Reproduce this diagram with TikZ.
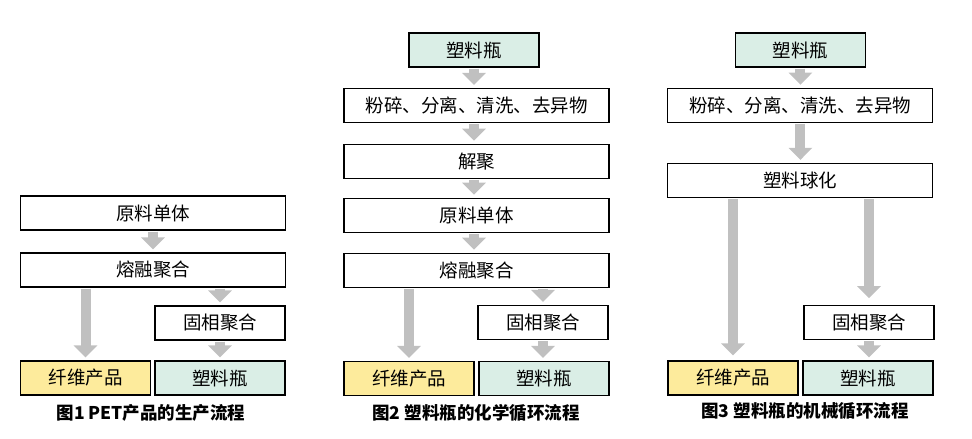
\documentclass[tikz,border=0pt]{standalone}
\usepackage{fontspec}
\setmainfont{Noto Sans CJK SC}
\usetikzlibrary{arrows.meta}

\definecolor{arrowgray}{HTML}{C0C0C0}
\definecolor{fiberyellow}{HTML}{FDEB9C}
\definecolor{bottleteal}{HTML}{DAEEE6}

\tikzset{
    box/.style={draw, line width=1.2pt, minimum height=34pt, inner sep=0pt,
                font=\fontsize{18.5}{18.5}\selectfont},
    widebox/.style={box, minimum width=265pt},
    smallbox/.style={box, minimum width=130pt},
    fiberbox/.style={smallbox, fill=fiberyellow},
    bottlebox/.style={smallbox, fill=bottleteal},
    flow/.style={draw=arrowgray, line width=10pt,
                 -{Triangle[width=23pt,length=12pt]}, shorten >=3pt, shorten <=1pt},
    caption/.style={font=\fontsize{17.5}{17.5}\selectfont\bfseries}
}

\begin{document}
\begin{tikzpicture}[x=1pt, y=-1pt]
                    \useasboundingbox (0,0) rectangle (972,439);

                    % 图1 PET产品的生产流程
                    \node[widebox] (mono1) at (153,213) {原料单体};
                    \node[widebox] (melt1) at (153,270) {熔融聚合};
                    \node[smallbox] (solid1) at (220,323) {固相聚合};
                    \node[fiberbox] (fiber1) at (85.5,378) {纤维产品};
                    \node[bottlebox] (bottle1) at (220,378) {塑料瓶};
                    \node[caption] (cap1) at (151,413) {图1 PET产品的生产流程};

                    \draw[flow] (mono1.south) -- (melt1.north);
                    \draw[flow] (melt1.south -| fiber1) -- (fiber1.north);
                    \draw[flow] (melt1.south -| solid1) -- (solid1.north);
                    \draw[flow] (solid1.south) -- (bottle1.north);

                    % 图2 塑料瓶的化学循环流程
                    \node[bottlebox] (top2) at (474,50) {塑料瓶};
                    \node[widebox] (crush2) at (476.5,105.5) {粉碎、分离、清洗、去异物};
                    \node[widebox] (depoly2) at (476.5,161.3) {解聚};
                    \node[widebox] (mono2) at (476.5,215.3) {原料单体};
                    \node[widebox] (melt2) at (476.5,270.3) {熔融聚合};
                    \node[smallbox] (solid2) at (543,322.5) {固相聚合};
                    \node[fiberbox] (fiber2) at (409,378.5) {纤维产品};
                    \node[bottlebox] (bottle2) at (544,378.5) {塑料瓶};
                    \node[caption] (cap2) at (476,413) {图2 塑料瓶的化学循环流程};

                    \draw[flow] (top2.south) -- (top2.south |- crush2.north);
                    \draw[flow] (crush2.south -| top2) -- (depoly2.north -| top2);
                    \draw[flow] (depoly2.south -| top2) -- (mono2.north -| top2);
                    \draw[flow] (mono2.south -| top2) -- (melt2.north -| top2);
                    \draw[flow] (melt2.south -| fiber2) -- (fiber2.north);
                    \draw[flow] (melt2.south -| solid2) -- (solid2.north);
                    \draw[flow] (solid2.south) -- (bottle2.north -| solid2);

                    % 图3 塑料瓶的机械循环流程
                    \node[bottlebox] (top3) at (800.4,50) {塑料瓶};
                    \node[widebox] (crush3) at (800,105.3) {粉碎、分离、清洗、去异物};
                    \node[widebox] (ball3) at (800,180.5) {塑料球化};
                    \node[smallbox] (solid3) at (869,322.8) {固相聚合};
                    \node[fiberbox] (fiber3) at (733,378) {纤维产品};
                    \node[bottlebox] (bottle3) at (868,378) {塑料瓶};
                    \node[caption] (cap3) at (805,411) {图3 塑料瓶的机械循环流程};

                    \draw[flow] (top3.south) -- (top3.south |- crush3.north);
                    \draw[flow] (crush3.south -| top3) -- (ball3.north -| top3);
                    \draw[flow, shorten >=5pt] (ball3.south -| fiber3) -- (fiber3.north);
                    \draw[flow, shorten >=7pt] (ball3.south -| solid3) -- (solid3.north);
                    \draw[flow] (solid3.south) -- (bottle3.north -| solid3);
                \end{tikzpicture}
\end{document}
